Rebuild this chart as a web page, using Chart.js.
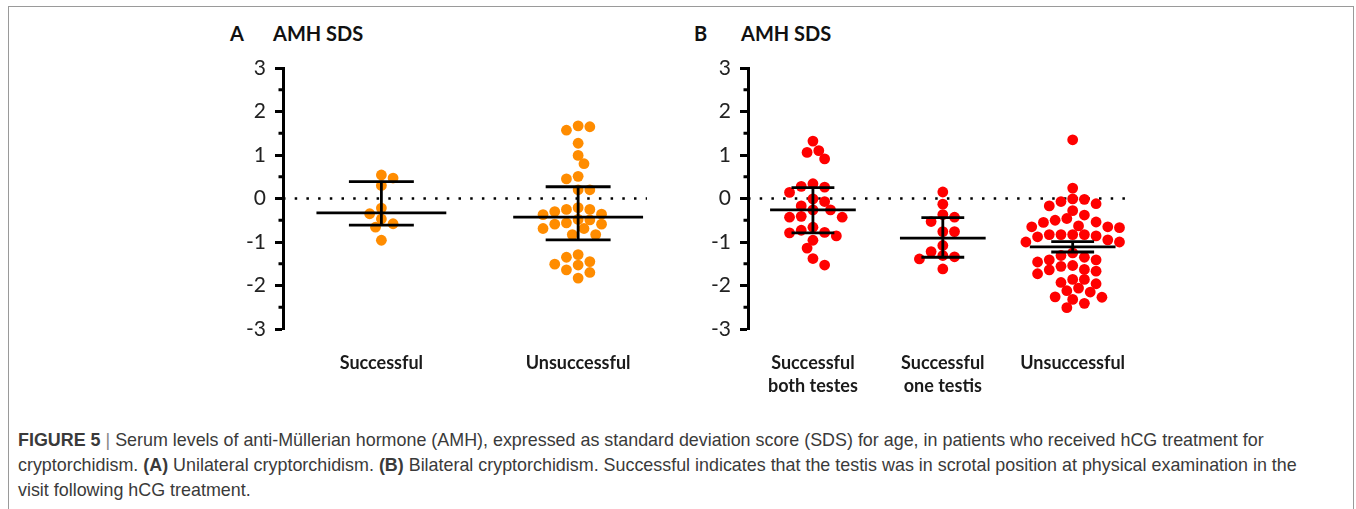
<!DOCTYPE html>
<html>
<head>
<meta charset="utf-8">
<script src="https://cdn.jsdelivr.net/npm/chart.js@4"></script>
<style>
  body { margin: 0; background: #fff; width: 1356px; height: 509px; position: relative; overflow: hidden; }
  .frame { position: absolute; left: 8px; top: 6px; width: 1344px; height: 520px; border: 1.5px solid #9a9a9a; border-bottom: none; }
  .head { position: absolute; top: 22px; font: bold 20px Lato, sans-serif; color: #111; line-height: 22px; }
  canvas { position: absolute; top: 40px; }
  .caption { position: absolute; left: 18px; top: 428px; font: 17.9px "Liberation Sans", Arial, sans-serif; color: #3a3a3a; line-height: 25px; white-space: nowrap; }
  .caption .bar { color: #888; }
</style>
</head>
<body>
<div class="frame"></div>
<div class="head" style="left:230px">A</div>
<div class="head" style="left:273px">AMH SDS</div>
<div class="head" style="left:694px">B</div>
<div class="head" style="left:741px">AMH SDS</div>
<canvas id="chartA" width="480" height="370" style="left:180px"></canvas>
<canvas id="chartB" width="480" height="370" style="left:660px"></canvas>
<div class="caption"><b>FIGURE 5</b> <span class="bar">|</span> Serum levels of anti-Müllerian hormone (AMH), expressed as standard deviation score (SDS) for age, in patients who received hCG treatment for<br>cryptorchidism. <b>(A)</b> Unilateral cryptorchidism. <b>(B)</b> Bilateral cryptorchidism. Successful indicates that the testis was in scrotal position at physical examination in the<br>visit following hCG treatment.</div>
<script>
// panel A - unilateral
const catsA = ["Successful", "Unsuccessful"];
const aSuccessful = [0.54, 0.47, 0.30, -0.22, -0.35, -0.47, -0.58, -0.66, -0.96];
const aUnsuccessful = [1.67, 1.65, 1.57, 1.27, 0.99, 0.80, 0.51, 0.45, 0.20, 0.20,
  -0.21, -0.25, -0.25, -0.30, -0.36, -0.37, -0.48, -0.49, -0.56, -0.59, -0.59, -0.69, -0.69, -0.83, -0.83,
  -1.29, -1.35, -1.45, -1.51, -1.53, -1.64, -1.70, -1.83];
const aMedian = [-0.33, -0.43];
const aUpper = [0.39, 0.27];
const aLower = [-0.61, -0.95];

// panel B - bilateral
const catsB = [["Successful", "both testes"], ["Successful", "one testis"], "Unsuccessful"];
const bBoth = [1.32, 1.10, 1.06, 0.91, 0.34, 0.28, 0.26, 0.14, -0.01, -0.07, -0.17, -0.26, -0.26,
  -0.41, -0.43, -0.43, -0.66, -0.73, -0.78, -0.79, -0.86, -0.96, -1.14, -1.38, -1.53];
const bOne = [0.15, -0.13, -0.37, -0.43, -0.53, -0.76, -0.76, -1.08, -1.22, -1.31, -1.34, -1.39, -1.62];
const bUnsuccessful = [1.35, 0.24, -0.01, -0.02, -0.07, -0.12, -0.17, -0.28, -0.38, -0.46, -0.50, -0.54,
  -0.55, -0.63, -0.65, -0.65, -0.67, -0.83, -0.83, -0.83, -0.83, -0.86, -0.88, -0.95, -1.00, -1.00,
  -1.25, -1.31, -1.35, -1.41, -1.41, -1.46, -1.54, -1.56, -1.63, -1.64, -1.67, -1.73, -1.86, -1.86,
  -1.93, -1.96, -2.06, -2.12, -2.15, -2.26, -2.27, -2.32, -2.41, -2.51];
const bMedian = [-0.26, -0.91, -1.11];
const bUpper = [0.25, -0.44, -0.99];
const bLower = [-0.79, -1.35, -1.23];

const yTicks = [-3, -2, -1, 0, 1, 2, 3];

const R = 5.4;      // dot radius px
const GAP = 9.6;    // min distance between dot centres px (GraphPad lets dots touch)
const STEP = 5.85;  // swarm column step px

const minorTicks = {
  id: "minorTicks",
  afterDraw(chart) {
    const y = chart.scales.y;
    const left = chart.chartArea.left;
    const ctx = chart.ctx;
    ctx.save();
    ctx.strokeStyle = "#000";
    ctx.lineWidth = 3;
    yTicks.slice(0, -1).forEach(v => {
      const py = y.getPixelForValue(v + 0.5);
      ctx.beginPath();
      ctx.moveTo(left - 4.5, py);
      ctx.lineTo(left, py);
      ctx.stroke();
    });
    ctx.restore();
  }
};

function makeChart(id, cats, groups, color, med, up, lo, xMax, pad) {
  const datasets = [];
  // dotted zero line
  datasets.push({
    data: [{ x: 0.5, y: 0 }, { x: xMax, y: 0 }],
    showLine: true, borderColor: "#000", borderWidth: 2.5, borderDash: [2.5, 9.2],
    pointRadius: 0, order: 3
  });
  groups.forEach((vals, i) => {
    datasets.push({
      data: vals.map(v => ({ x: i + 1, y: v })),
      backgroundColor: color, borderWidth: 0, pointRadius: R, order: 2, swarm: true
    });
  });
  med.forEach((m, i) => {
    const c = i + 1;
    const segs = [
      [c - 0.33, m, c + 0.33, m],
      [c - 0.165, up[i], c + 0.165, up[i]],
      [c - 0.165, lo[i], c + 0.165, lo[i]],
      [c, lo[i], c, up[i]]
    ];
    segs.forEach(s => datasets.push({
      data: [{ x: s[0], y: s[1] }, { x: s[2], y: s[3] }],
      showLine: true, borderColor: "#000", borderWidth: 2.8, pointRadius: 0, order: 1
    }));
  });

  return new Chart(document.getElementById(id), {
    type: "scatter",
    data: { datasets },
    options: {
      responsive: false,
      animation: false,
      events: [],
      layout: { padding: pad },
      plugins: { legend: { display: false }, tooltip: { enabled: false } },
      scales: {
        x: {
          type: "linear", min: 0.5, max: xMax,
          afterBuildTicks: s => { s.ticks = cats.map((c, i) => ({ value: i + 1 })); },
          afterFit: s => { s.height = 81; },
          border: { display: false },
          grid: { display: false },
          ticks: {
            callback: (v, i) => cats[i],
            font: { family: "Lato", size: 18, weight: "bold", lineHeight: 1.3 },
            color: "#1a1a1a", padding: 14, maxRotation: 0, autoSkip: false
          }
        },
        y: {
          min: -3, max: 3,
          afterBuildTicks: s => { s.ticks = yTicks.map(v => ({ value: v })); },
          afterFit: s => { s.width = 40; },
          ticks: { font: { family: "Lato", size: 21 }, color: "#222", padding: 9 },
          border: { color: "#000", width: 3 },
          grid: { drawOnChartArea: false, tickLength: 8, tickWidth: 3, tickColor: "#000" }
        }
      }
    },
    plugins: [minorTicks]
  });
}

function swarm(chart) {
  const xs = chart.scales.x, ys = chart.scales.y;
  const ppu = xs.getPixelForValue(1) - xs.getPixelForValue(0);
  chart.data.datasets.forEach(ds => {
    if (!ds.swarm) return;
    const pts = ds.data.map(p => ({ p, py: ys.getPixelForValue(p.y) })).sort((a, b) => a.py - b.py);
    const placed = [];
    let side = 1;
    const free = (dx, py) => placed.every(q => (q.dx - dx) ** 2 + (q.py - py) ** 2 >= GAP * GAP);
    pts.forEach(o => {
      o.dx = 0;
      for (let k = 0; k < 40; k++) {
        const a = side * k * STEP, b = -side * k * STEP;
        if (free(a, o.py)) { o.dx = a; break; }
        if (free(b, o.py)) { o.dx = b; break; }
      }
      if (o.dx !== 0) side = o.dx > 0 ? -1 : 1;
      placed.push(o);
      o.p.x = o.p.x + o.dx / ppu;
    });
  });
  chart.update("none");
}

const chartA = makeChart("chartA", catsA, [aSuccessful, aUnsuccessful], "#ff8c00",
  aMedian, aUpper, aLower, 2.35, { left: 63, right: 13, top: 28, bottom: 0 });
const chartB = makeChart("chartB", catsB, [bBoth, bOne, bUnsuccessful], "#ff0000",
  bMedian, bUpper, bLower, 3.445, { left: 48, right: 6, top: 28, bottom: 0 });
swarm(chartA);
swarm(chartB);
</script>
</body>
</html>
